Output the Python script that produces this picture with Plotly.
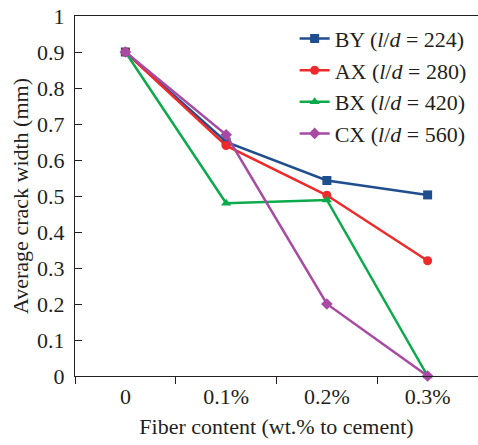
import plotly.graph_objects as go

categories = ["0", "0.1%", "0.2%", "0.3%"]
by_vals = [0.90, 0.65, 0.543, 0.503]
ax_vals = [0.90, 0.64, 0.502, 0.32]
bx_vals = [0.90, 0.48, 0.489, 0.0]
cx_vals = [0.90, 0.67, 0.20, 0.0]

series = [
    ("BY (<i>l</i>/<i>d</i> = 224)", by_vals, "#1F4E8F", "square"),
    ("AX (<i>l</i>/<i>d</i> = 280)", ax_vals, "#EE2A2A", "circle"),
    ("BX (<i>l</i>/<i>d</i> = 420)", bx_vals, "#0BAA4B", "triangle-up"),
    ("CX (<i>l</i>/<i>d</i> = 560)", cx_vals, "#A84AA3", "diamond"),
]

fig = go.Figure()
for name, vals, color, sym in series:
    fig.add_trace(go.Scatter(
        x=categories, y=vals, name=name, mode="lines+markers",
        line=dict(color=color, width=2.5),
        marker=dict(symbol=sym, size=9, color=color),
        cliponaxis=False,
    ))

font_family = "Liberation Serif"
fig.update_layout(
    width=478, height=445,
    margin=dict(l=75, r=0, t=16, b=69),
    plot_bgcolor="white", paper_bgcolor="white",
    font=dict(family=font_family, size=22, color="#231F20"),
    legend=dict(x=0.545, y=0.995, xanchor="left", yanchor="top",
                font=dict(family=font_family, size=22), bgcolor="rgba(0,0,0,0)",
                tracegroupgap=0, itemwidth=30),
    showlegend=True,
)
fig.update_xaxes(
    type="category", range=[-0.5, 3.5],
    showline=True, linecolor="#231F20", linewidth=1.2, mirror=True,
    ticks="outside", tickson="boundaries", ticklen=7, tickcolor="#231F20",
    showgrid=False, zeroline=False,
    title=dict(text="Fiber content (wt.% to cement)", font=dict(family=font_family, size=22), standoff=11),
    tickfont=dict(family=font_family, size=22),
)
fig.update_yaxes(
    range=[0, 1], dtick=0.1, tick0=0,
    showline=True, linecolor="#231F20", linewidth=1.2,
    ticks="inside", ticklen=7, tickcolor="#231F20",
    ticklabelstandoff=5,
    showgrid=False, zeroline=False,
    title=dict(text="Average crack width (mm)", font=dict(family=font_family, size=22), standoff=2),
    tickfont=dict(family=font_family, size=22),
)

fig.write_html("out.html")
